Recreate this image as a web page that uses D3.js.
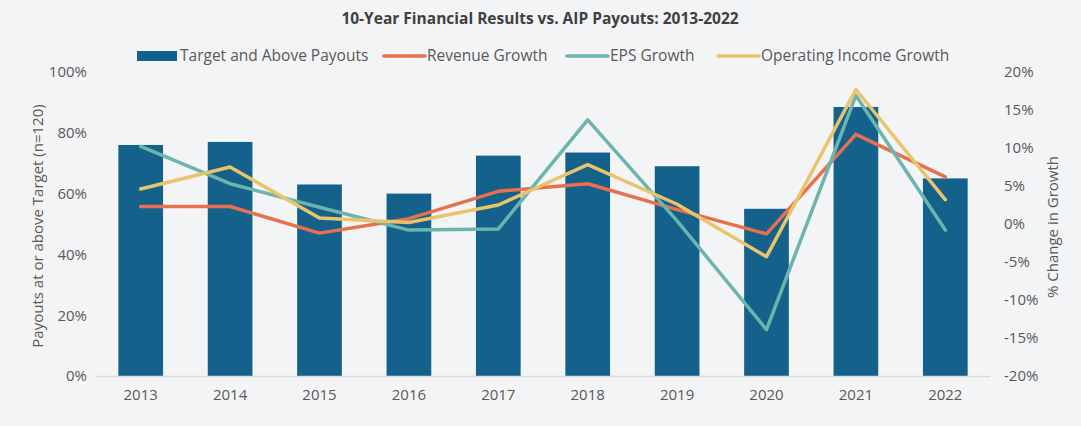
<!DOCTYPE html>
<html>
<head>
<meta charset="utf-8">
<script src="https://cdn.jsdelivr.net/npm/d3@7"></script>
<style>
  html, body { margin: 0; padding: 0; background: #f3f4f6; }
  svg { display: block; font-family: "Open Sans", Lato, sans-serif; }
</style>
</head>
<body>
<svg id="chart" width="1081" height="426"></svg>
<script>
const years = ["2013","2014","2015","2016","2017","2018","2019","2020","2021","2022"];
const payouts = [76, 77, 63, 60, 72.5, 73.5, 69, 55, 88.5, 65];
const revenueGrowth = [2.3, 2.3, -1.2, 0.7, 4.3, 5.3, 1.9, -1.3, 11.8, 6.2];
const epsGrowth = [10.2, 5.3, 2.2, -0.8, -0.65, 13.7, 0.4, -13.9, 16.9, -0.8];
const opIncomeGrowth = [4.6, 7.5, 0.8, 0.2, 2.5, 7.8, 2.6, -4.3, 17.7, 3.2];
const leftTicks = [0, 20, 40, 60, 80, 100];
const rightTicks = [-20, -15, -10, -5, 0, 5, 10, 15, 20];

const title = "10-Year Financial Results vs. AIP Payouts: 2013-2022";
const leftTitle = "Payouts at or above Target (n=120)";
const rightTitle = "% Change in Growth";

const lineSeries = [
  { name: "Revenue Growth", values: revenueGrowth, color: "#e8704f" },
  { name: "EPS Growth", values: epsGrowth, color: "#6db3ae" },
  { name: "Operating Income Growth", values: opIncomeGrowth, color: "#eac46a" }
];
const barColor = "#14628b";
const textColor = "#595959";
const fontFam = "'Open Sans', Lato, sans-serif";

const svg = d3.select("#chart");
const plot = { left: 96, right: 990, top: 72, bottom: 376 };

const x = d3.scaleBand().domain(years).range([plot.left, plot.right]).paddingInner(0.5).paddingOuter(0.25);
const yL = d3.scaleLinear().domain([0, 100]).range([plot.bottom, plot.top]);
const yR = d3.scaleLinear().domain([-20, 20]).range([plot.bottom, plot.top]);

// Title
svg.append("text").attr("x", 540).attr("y", 24).attr("text-anchor", "middle")
  .attr("font-size", 15.5).attr("font-weight", "bold").attr("fill", "#404040").text(title);

// Bars
svg.append("g").selectAll("rect").data(payouts).join("rect")
  .attr("x", (d, i) => x(years[i]))
  .attr("y", d => yL(d))
  .attr("width", x.bandwidth())
  .attr("height", d => yL(0) - yL(d))
  .attr("fill", barColor);

// X axis
const xAxis = svg.append("g").attr("transform", `translate(0,${plot.bottom})`)
  .call(d3.axisBottom(x).tickSize(0).tickPadding(13));
xAxis.select(".domain").attr("stroke", "#d9d9d9").attr("stroke-width", 1.5);
xAxis.selectAll("text").attr("font-size", 15).attr("fill", textColor).attr("font-family", fontFam);

// Left axis
const lAxis = svg.append("g").attr("transform", `translate(${plot.left - 9},0)`)
  .call(d3.axisLeft(yL).tickValues(leftTicks).tickSize(0).tickPadding(0).tickFormat(d => d + "%"));
lAxis.select(".domain").remove();
lAxis.selectAll("text").attr("font-size", 15).attr("fill", textColor).attr("font-family", fontFam);

// Right axis
const rAxis = svg.append("g").attr("transform", `translate(${plot.right + 14},0)`)
  .call(d3.axisRight(yR).tickValues(rightTicks).tickSize(0).tickPadding(0).tickFormat(d => d + "%"));
rAxis.select(".domain").remove();
rAxis.selectAll("text").attr("font-size", 15).attr("fill", textColor).attr("font-family", fontFam);

// Axis titles
svg.append("text").attr("transform", `translate(43,${(plot.top + plot.bottom) / 2 + 2}) rotate(-90)`)
  .attr("text-anchor", "middle").attr("font-size", 15).attr("fill", textColor).text(leftTitle);
svg.append("text").attr("transform", `translate(1058,${(plot.top + plot.bottom) / 2 + 3}) rotate(-90)`)
  .attr("text-anchor", "middle").attr("font-size", 15).attr("fill", textColor).text(rightTitle);

// Lines
const line = d3.line().x((d, i) => x(years[i]) + x.bandwidth() / 2).y(d => yR(d));
svg.append("g").selectAll("path").data(lineSeries).join("path")
  .attr("d", d => line(d.values))
  .attr("fill", "none").attr("stroke", d => d.color)
  .attr("stroke-width", 3.5).attr("stroke-linejoin", "round").attr("stroke-linecap", "round");

// Legend
const legendY = 56;
const leg = svg.append("g");
leg.append("rect").attr("x", 137).attr("y", legendY - 5).attr("width", 40).attr("height", 10).attr("fill", barColor);
leg.append("text").attr("x", 180).attr("y", legendY + 5).attr("font-size", 15.5).attr("fill", textColor).text("Target and Above Payouts");
const lineLegendX = [384, 567, 718];
lineSeries.forEach((s, i) => {
  leg.append("line").attr("x1", lineLegendX[i]).attr("x2", lineLegendX[i] + 41)
    .attr("y1", legendY).attr("y2", legendY).attr("stroke", s.color).attr("stroke-width", 3.5).attr("stroke-linecap", "round");
  leg.append("text").attr("x", lineLegendX[i] + 43).attr("y", legendY + 5).attr("font-size", 15.5).attr("fill", textColor).text(s.name);
});
</script>
</body>
</html>
